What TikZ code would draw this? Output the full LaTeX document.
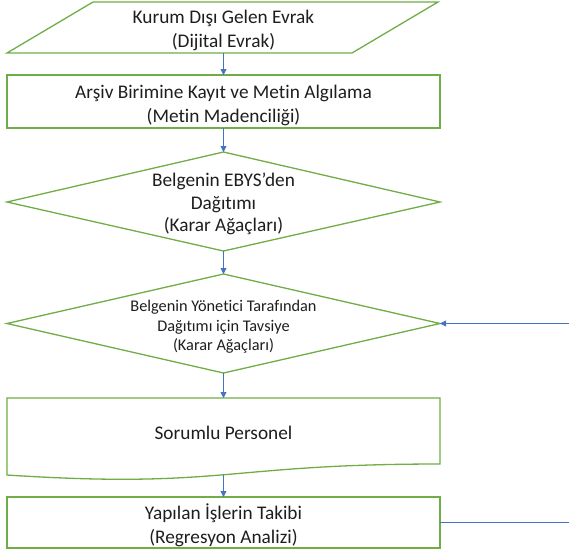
\documentclass[tikz,border=0pt]{standalone}
\usepackage{fontspec}
\setmainfont{Carlito}[Ligatures=NoCommon]
\usetikzlibrary{arrows.meta}
\definecolor{grn}{RGB}{112,173,71}
\definecolor{blu}{RGB}{68,114,196}
\definecolor{txt}{RGB}{30,30,30}
\begin{document}
\begin{tikzpicture}[x=1pt,y=-1pt,
  shapeline/.style={draw=grn,line width=1.3pt},
  flow/.style={draw=blu,line width=0.8pt,-{Triangle[width=6pt,length=6pt]}},
  plainline/.style={draw=blu,line width=0.8pt},
  frame/.style={inner sep=0pt,outer sep=0pt,minimum width=433pt},
  boxnode/.style={frame,shapeline,rectangle},
  lbl/.style={align=center,font=\fontsize{19.3}{24.5}\selectfont,text=txt,inner sep=0pt},
  lblmid/.style={align=center,font=\fontsize{19.3}{22.5}\selectfont,text=txt,inner sep=0pt},
  lblsmall/.style={align=center,font=\fontsize{16.3}{19.7}\selectfont,text=txt,inner sep=0pt}]
\useasboundingbox (0,0) rectangle (569,555);

% input parallelogram
\draw[shapeline] (93,2) -- (438,2) -- (352,53) -- (7,53) -- cycle;
\node[frame,minimum height=51pt,label={[lbl,yshift=-3pt]center:{Kurum Dışı Gelen Evrak\\(Dijital Evrak)}}] (in) at (223.5,27.5) {};

% archive registration
\node[boxnode,minimum height=53pt,label={[lbl,yshift=-4pt]center:{Arşiv Birimine Kayıt ve Metin Algılama\\(Metin Madenciliği)}}] (arsiv) at (223.5,101.5) {};

% decision 1
\draw[shapeline] (223.5,152) -- (440,202) -- (223.5,251) -- (7,202) -- cycle;
\node[frame,minimum height=99pt,label={[lblmid,yshift=-2.5pt]center:{Belgenin EBYS’den\\Dağıtımı\\(Karar Ağaçları)}}] (ebys) at (223.5,201.5) {};

% decision 2
\draw[shapeline] (223.5,274) -- (440,323.5) -- (223.5,373) -- (7,323.5) -- cycle;
\node[frame,minimum height=99pt,label={[lblsmall,yshift=-3.5pt]center:{Belgenin Yönetici Tarafından\\Dağıtımı için Tavsiye\\(Karar Ağaçları)}}] (tavsiye) at (223.5,323.5) {};

% document shape
\draw[shapeline] (7,398) -- (440,398) -- (440,464)
  .. controls (223.5,464) and (223.5,489) .. (7,475) -- cycle;
\node[frame,minimum height=77pt,label={[lbl,yshift=3.5pt]center:{Sorumlu Personel}}] (doc) at (223.5,436.5) {};
\coordinate (docbot) at (223.5,475);

% tracking
\node[boxnode,minimum height=51pt,label={[lbl,yshift=-3pt]center:{Yapılan İşlerin Takibi\\(Regresyon Analizi)}}] (takip) at (223.5,522.5) {};

% external ends
\coordinate (ext1) at (569,323.5);
\coordinate (ext2) at (569,522.5);

% connectors
\draw[flow] (in.south) -- (arsiv.north);
\draw[flow] (arsiv.south) -- (ebys.north);
\draw[flow] (ebys.south) -- (tavsiye.north);
\draw[flow] (tavsiye.south) -- (doc.north);
\draw[flow] (docbot) -- (takip.north);
\draw[flow] (ext1) -- (tavsiye.east);
\draw[plainline] (takip.east) -- (ext2);
\end{tikzpicture}
\end{document}
